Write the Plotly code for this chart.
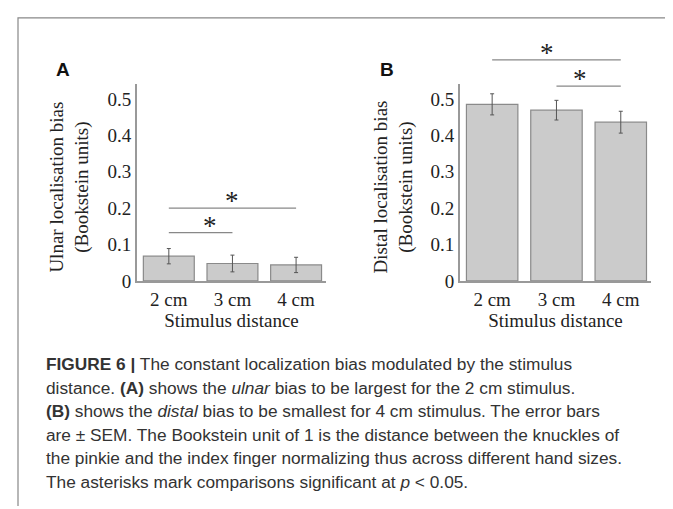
import plotly.graph_objects as go

cats = ["2 cm", "3 cm", "4 cm"]
ulnar = [0.068, 0.048, 0.044]
ulnar_sem = [0.021, 0.023, 0.021]
distal = [0.485, 0.469, 0.436]
distal_sem = [0.029, 0.027, 0.030]

# significance bars: (from, to, height)
sig_a = [(0, 1, 0.133), (0, 2, 0.2)]
sig_b = [(0, 2, 0.607), (1, 2, 0.535)]

ytick_vals = [0, 0.1, 0.2, 0.3, 0.4, 0.5]
ytick_text = ["0", "0.1", "0.2", "0.3", "0.4", "0.5"]

caption = [
    "<b>FIGURE 6 |</b> The constant localization bias modulated by the stimulus",
    "distance. <b>(A)</b> shows the <i>ulnar</i> bias to be largest for the 2 cm stimulus.",
    "<b>(B)</b> shows the <i>distal</i> bias to be smallest for 4 cm stimulus. The error bars",
    "are ± SEM. The Bookstein unit of 1 is the distance between the knuckles of",
    "the pinkie and the index finger normalizing thus across different hand sizes.",
    "The asterisks mark comparisons significant at <i>p</i> < 0.05.",
]

W, H = 673, 509
serif = "Liberation Serif, Times New Roman, serif"
sans = "Liberation Sans, Arial, sans-serif"
XR = [-0.5, 2.47]
YR = [0, 0.54]
dom_a = [129 / W, 318 / W]
dom_b = [452 / W, 643 / W]
y_dom = [1 - 279 / H, 1 - 78 / H]


def to_paper(v, rng, dom):
    return dom[0] + (v - rng[0]) / (rng[1] - rng[0]) * (dom[1] - dom[0])


fig = go.Figure()
for vals, sem, xa, ya in [(ulnar, ulnar_sem, "x", "y"), (distal, distal_sem, "x2", "y2")]:
    fig.add_trace(go.Bar(
        x=[0, 1, 2], y=vals, width=0.8, xaxis=xa, yaxis=ya,
        marker=dict(color="#cbcbcb", line=dict(color="#8a8a8a", width=1.2)),
        error_y=dict(type="data", array=sem, color="#555555", thickness=1, width=2),
        showlegend=False,
    ))

for sig, dom in [(sig_a, dom_a), (sig_b, dom_b)]:
    for a, b, h in sig:
        x0, x1 = to_paper(a, XR, dom), to_paper(b, XR, dom)
        yy = to_paper(h, YR, y_dom)
        fig.add_shape(type="line", xref="paper", yref="paper", x0=x0, x1=x1, y0=yy, y1=yy,
                      line=dict(color="#888888", width=1.2))
        fig.add_annotation(xref="paper", yref="paper", x=(x0 + x1) / 2, y=yy, text="*",
                           showarrow=False, yanchor="bottom", yshift=-10,
                           font=dict(family=serif, size=27, color="#222"))

axis_common = dict(range=XR, tickvals=[0, 1, 2], ticktext=cats,
                   showline=True, linecolor="#999999", linewidth=2, ticks="",
                   showgrid=False, zeroline=False,
                   tickfont=dict(family=serif, size=19, color="#222"),
                   title=dict(text="Stimulus distance", standoff=0,
                              font=dict(family=serif, size=19, color="#222")))
yaxis_common = dict(range=YR, tickvals=ytick_vals, ticktext=ytick_text,
                    showline=True, linecolor="#999999", linewidth=2, ticks="",
                    showgrid=False, zeroline=False,
                    tickfont=dict(family=serif, size=19, color="#222"))

fig.update_layout(
    width=W, height=H, margin=dict(l=0, r=0, t=0, b=0),
    paper_bgcolor="white", plot_bgcolor="white",
    xaxis=dict(axis_common, domain=dom_a, anchor="y"),
    xaxis2=dict(axis_common, domain=dom_b, anchor="y2"),
    yaxis=dict(yaxis_common, domain=y_dom, anchor="x"),
    yaxis2=dict(yaxis_common, domain=y_dom, anchor="x2"),
)

# y-axis titles
for txt, px in [("Ulnar localisation bias<br>(Bookstein units)", 62),
                ("Distal localisation bias<br>(Bookstein units)", 386)]:
    fig.add_annotation(xref="paper", yref="paper", x=px / W, y=sum(y_dom) / 2 - 0.01, text=txt,
                       showarrow=False, textangle=-90, xanchor="center", yanchor="middle",
                       font=dict(family=serif, size=19, color="#222"))

for letter, px in [("A", 46), ("B", 370)]:
    fig.add_annotation(xref="paper", yref="paper", x=px / W, y=1 - 63 / H, text="<b>" + letter + "</b>",
                       showarrow=False, xanchor="left", yanchor="middle",
                       font=dict(family=sans, size=19, color="#111"))

for i, line in enumerate(caption):
    fig.add_annotation(xref="paper", yref="paper", x=36 / W, y=1 - (364 + 24 * i) / H, text=line,
                       showarrow=False, xanchor="left", yanchor="middle", align="left",
                       font=dict(family=sans, size=17.3, color="#333"))

# figure frame
fig.add_shape(type="path", xref="paper", yref="paper",
              path=f"M {10/W},0 L {10/W},{1-10/H} L {662/W},{1-10/H} L {662/W},0",
              line=dict(color="#888888", width=1.2))

fig.write_html("out.html")
